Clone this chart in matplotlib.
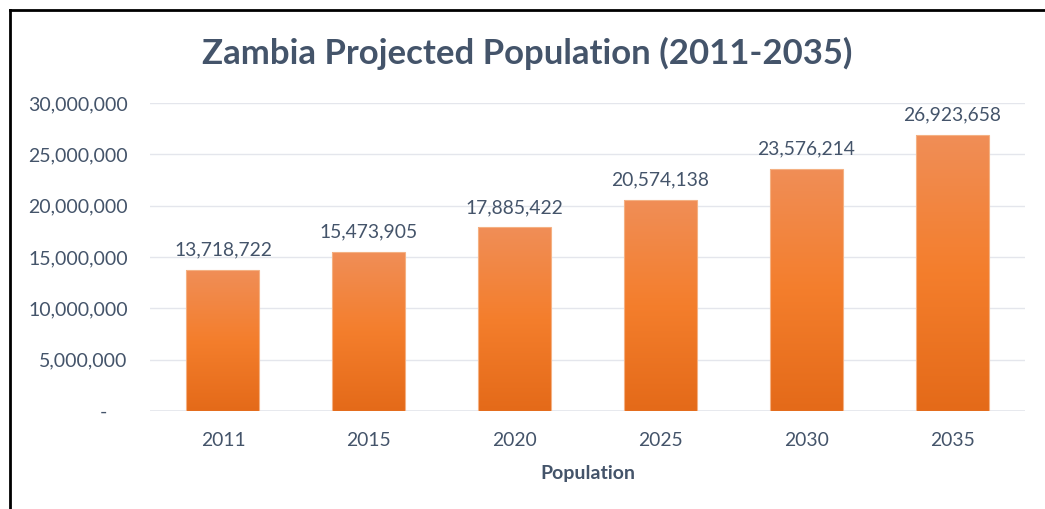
import matplotlib.pyplot as plt
import numpy as np
from matplotlib.colors import LinearSegmentedColormap
from matplotlib.patches import Rectangle

years = ["2011", "2015", "2020", "2025", "2030", "2035"]
population = [13718722, 15473905, 17885422, 20574138, 23576214, 26923658]
y_ticks = [0, 5000000, 10000000, 15000000, 20000000, 25000000, 30000000]

TEXT = "#44546A"
FONT = "Lato"

plt.rcParams["font.family"] = [FONT, "DejaVu Sans"]

fig = plt.figure(figsize=(10.45, 5.09), dpi=100)
ax = fig.add_axes([150 / 1045, 1 - 411 / 509, 875 / 1045, 308 / 509])

# frame around the chart (cut off on the right and bottom)
fig.add_artist(plt.Line2D([10 / 1045, 10 / 1045], [0, 1 - 10 / 509],
                          transform=fig.transFigure, color="black", lw=2))
fig.add_artist(plt.Line2D([10 / 1045, 1], [1 - 10 / 509, 1 - 10 / 509],
                          transform=fig.transFigure, color="black", lw=2))

x = np.arange(len(years))
bars = ax.bar(x, population, width=0.5, color="none",
              edgecolor="#F4B183", linewidth=0.8, zorder=3)

orange = LinearSegmentedColormap.from_list(
    "orange", ["#E46A19", "#F47E2C", "#F08E57"])
grad = np.linspace(0, 1, 256).reshape(-1, 1)
for b in bars:
    im = ax.imshow(grad, cmap=orange, origin="lower", aspect="auto",
                   extent=[b.get_x(), b.get_x() + b.get_width(), 0, b.get_height()],
                   zorder=2)
    im.set_clip_path(Rectangle((b.get_x(), 0), b.get_width(), b.get_height(),
                               transform=ax.transData))

for xi, v in zip(x, population):
    ax.text(xi, v + 1100000, f"{v:,}", ha="center", va="bottom",
            fontsize=13.9, color=TEXT)

ax.set_xlim(-0.5, len(years) - 0.5)
ax.set_ylim(0, 30000000)
ax.set_xticks(x)
ax.set_xticklabels(years, fontsize=13.9, color=TEXT)
ax.set_yticks(y_ticks)
# accounting style: zero shown as a dash, indented
ax.set_yticklabels(["-    " if t == 0 else f"{t:,}" for t in y_ticks],
                   fontsize=14, color=TEXT)
ax.tick_params(length=0, pad=16)
ax.tick_params(axis="x", pad=15)
ax.grid(axis="y", color="#E4E6EC", lw=1, zorder=0)
for s in ax.spines.values():
    s.set_visible(False)
ax.axhline(0, color="#E4E6EC", lw=1.2, zorder=1)

ax.set_xlabel("Population", fontsize=14, fontweight="bold", color=TEXT, labelpad=12)

fig.text(527 / 1045, 1 - 53 / 509, "Zambia Projected Population (2011-2035)",
         ha="center", va="center", fontsize=25, fontweight="bold", color=TEXT)

fig.savefig("out.png", dpi=100)
